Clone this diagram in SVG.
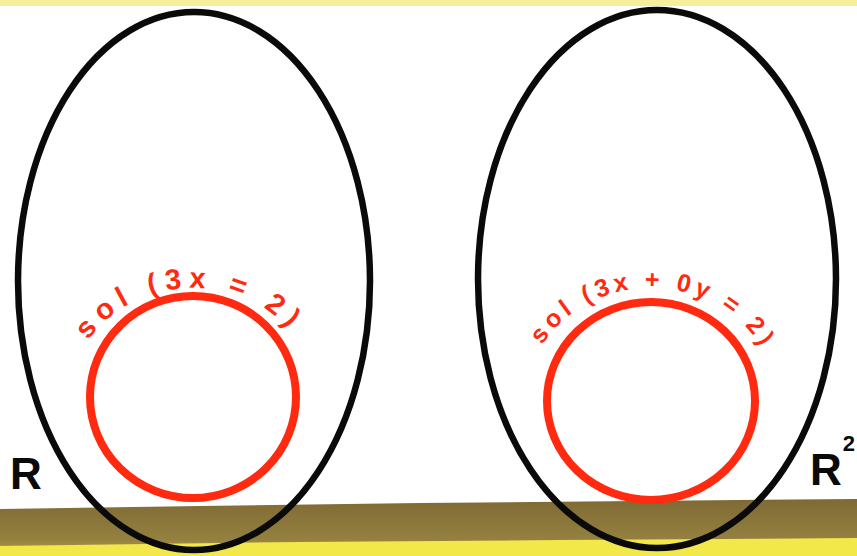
<svg xmlns="http://www.w3.org/2000/svg" width="857" height="556" viewBox="0 0 857 556">
  <style>
    .set { fill: none; stroke: #0a0a0a; stroke-width: 6.5; }
    .sol { fill: none; stroke: #ff2a10; stroke-width: 8; }
    .hand { font-family: "Liberation Sans", "DejaVu Sans", sans-serif; fill: #ff2a10; font-weight: bold; }
    .lbl { font-family: "Liberation Sans", "DejaVu Sans", sans-serif; fill: #0a0a0a; font-weight: bold; }
  </style>
  <defs>
    <path id="arcL" d="M 78 360 A 122 108 0 0 1 308 360"/>
    <path id="arcR" d="M 533 363 A 125 112 0 0 1 769 363"/>
    <linearGradient id="ground" x1="0" y1="0" x2="0" y2="1">
      <stop offset="0" stop-color="#7f6a35"/>
      <stop offset="0.7" stop-color="#94803f"/>
      <stop offset="1" stop-color="#b6a245"/>
    </linearGradient>
  </defs>
  <rect x="0" y="0" width="857" height="556" fill="#ffffff"/>
  <rect x="0" y="0" width="857" height="6" fill="#f6ee9c"/>
  <g id="ground-strip">
    <path d="M 0 509 L 200 506 L 420 503 L 857 499 L 857 556 L 0 556 Z" fill="url(#ground)"/>
    <path d="M 0 546 L 300 542 L 560 540 L 857 538 L 857 556 L 0 556 Z" fill="#f3e84a"/>
  </g>
  <g id="set-R">
    <ellipse class="set" cx="194" cy="281" rx="176" ry="269"/>
    <text class="lbl" x="10" y="489" font-size="44">R</text>
  </g>
  <g id="set-R2">
    <ellipse class="set" cx="657" cy="279" rx="179" ry="269"/>
    <text class="lbl" x="810" y="485" font-size="44">R<tspan font-size="22" dy="-34" dx="1">2</tspan></text>
  </g>
  <g id="sol-1">
    <ellipse class="sol" cx="193" cy="397" rx="103" ry="101"/>
    <text class="hand" font-size="29" letter-spacing="7"><textPath href="#arcL" startOffset="22">sol (3x = 2)</textPath></text>
  </g>
  <g id="sol-2">
    <ellipse class="sol" cx="651" cy="401" rx="104" ry="99"/>
    <text class="hand" font-size="25" letter-spacing="4.5"><textPath href="#arcR" startOffset="20">sol (3x + 0y = 2)</textPath></text>
  </g>
</svg>
